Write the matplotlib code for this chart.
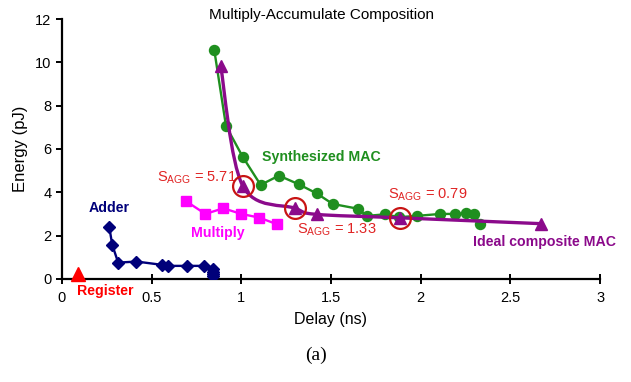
import numpy as np
import matplotlib as mpl
mpl.use('Agg')
import matplotlib.pyplot as plt
from matplotlib.path import Path
from matplotlib.patches import PathPatch

plt.rcParams['font.family'] = ['Liberation Sans', 'DejaVu Sans']
plt.rcParams['mathtext.fontset'] = 'custom'
plt.rcParams['mathtext.rm'] = 'Liberation Sans'

# data
synth_x = [0.85, 0.915, 1.008, 1.108, 1.21, 1.32, 1.42, 1.51, 1.65, 1.70, 1.80, 1.88, 1.98, 2.11, 2.19, 2.25, 2.30, 2.33]
synth_y = [10.55, 7.06, 5.64, 4.34, 4.77, 4.37, 3.95, 3.46, 3.24, 2.91, 2.98, 2.85, 2.91, 3.0, 3.0, 3.03, 3.0, 2.54]

ideal_x = [0.885, 1.008, 1.30, 1.42, 1.885, 2.67]
ideal_y = [9.85, 4.3, 3.26, 2.98, 2.82, 2.55]

mult_x = [0.69, 0.80, 0.90, 1.0, 1.10, 1.20]
mult_y = [3.60, 3.0, 3.26, 3.0, 2.83, 2.52]

adder_x = [0.264, 0.281, 0.314, 0.416, 0.556, 0.59, 0.695, 0.79, 0.844, 0.844, 0.844, 0.844]
adder_y = [2.41, 1.57, 0.75, 0.80, 0.65, 0.60, 0.60, 0.60, 0.45, 0.32, 0.22, 0.15]

reg_x = [0.09]
reg_y = [0.23]

# design points circled in the figure, with their S_AGG labels
sagg_x = [1.008, 1.30, 1.885]
sagg_y = [4.3, 3.26, 2.82]
sagg_lbl = ['5.71', '1.33', '0.79']

green = '#1f8f1f'
purple = '#8b0a8b'
magenta = '#ff00ff'
navy = '#00007a'
red = '#ff0000'
sred = '#e02424'


def smooth_path(xs, ys):
    # catmull-rom through the points, handed to matplotlib as cubic beziers
    pts = np.column_stack([xs, ys])
    verts = [pts[0]]
    codes = [Path.MOVETO]
    n = len(pts)
    for i in range(n - 1):
        p0 = pts[max(i - 1, 0)]
        p1 = pts[i]
        p2 = pts[i + 1]
        p3 = pts[min(i + 2, n - 1)]
        c1 = p1 + (p2 - p0) / 6.0
        c2 = p2 - (p3 - p1) / 6.0
        verts += [c1, c2, p2]
        codes += [Path.CURVE4] * 3
    return Path(verts, codes)


fig = plt.figure(figsize=(6.31, 3.82), dpi=100)
ax = fig.add_axes([0.098, 0.27, 0.853, 0.68])

ax.plot(synth_x, synth_y, color=green, lw=1.7, marker='o', ms=7.2, zorder=3)
ax.add_patch(PathPatch(smooth_path(ideal_x, ideal_y), fc='none', ec=purple, lw=2.4, zorder=4))
ax.plot(ideal_x, ideal_y, ls='none', color=purple, marker='^', ms=9, zorder=5)
ax.plot(mult_x, mult_y, color=magenta, lw=1.7, marker='s', ms=6.5, zorder=3)
ax.plot(adder_x, adder_y, color=navy, lw=1.7, marker='D', ms=6, zorder=3)
ax.plot(reg_x, reg_y, ls='none', color=red, marker='^', ms=10, zorder=3, clip_on=False)
ax.plot(sagg_x, sagg_y, ls='none', marker='o', ms=15, mfc='none', mec='#c81414', mew=1.6, zorder=6)

ax.set_xlim(0, 3)
ax.set_ylim(0, 12)
ax.set_xticks([0, 0.5, 1, 1.5, 2, 2.5, 3])
ax.set_xticklabels(['0', '0.5', '1', '1.5', '2', '2.5', '3'])
ax.set_yticks(range(0, 13, 2))
ax.spines['top'].set_visible(False)
ax.spines['right'].set_visible(False)
ax.spines['left'].set_linewidth(1.6)
ax.spines['bottom'].set_linewidth(1.6)
ax.tick_params(axis='x', direction='inout', length=7, width=1.4, labelsize=10.5, pad=5)
ax.tick_params(axis='y', direction='out', length=4, width=1.4, labelsize=10.5)
ax.set_xlabel('Delay (ns)', fontsize=11.5, labelpad=5)
ax.set_ylabel('Energy (pJ)', fontsize=12, labelpad=5)
fig.text(0.51, 0.962, 'Multiply-Accumulate Composition', fontsize=11, ha='center', va='center')

bold = dict(fontweight='bold', fontsize=10.2)
ax.text(1.115, 5.63, 'Synthesized MAC', color=green, ha='left', va='center', **bold)
ax.text(2.29, 1.72, 'Ideal composite MAC', color=purple, ha='left', va='center', **bold)
ax.text(0.15, 3.28, 'Adder', color=navy, ha='left', va='center', **bold)
ax.text(0.72, 2.12, 'Multiply', color=magenta, ha='left', va='center', **bold)
ax.text(0.084, -0.58, 'Register', color=red, ha='left', va='center', clip_on=False, **bold)

sagg_pos = [(0.53, 4.66), (1.31, 2.26), (1.82, 3.88)]
for (tx, ty), v in zip(sagg_pos, sagg_lbl):
    ax.text(tx, ty, r'S$_{\mathrm{AGG}}$ = ' + v, color=sred, fontsize=10.5, ha='left', va='center')

fig.text(0.5, 0.07, '(a)', fontsize=14, ha='center', va='center', family=['Liberation Serif', 'DejaVu Serif'])

fig.savefig('out.png', dpi=100)
